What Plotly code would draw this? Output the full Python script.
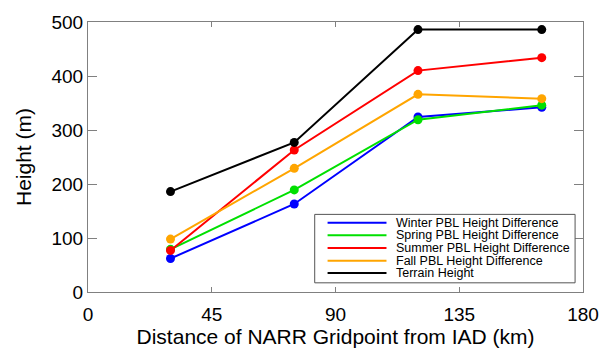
import plotly.graph_objects as go

# Data
distance_km = [30, 75, 120, 165]
series_names = [
    "Winter PBL Height Difference",
    "Spring PBL Height Difference",
    "Summer PBL Height Difference",
    "Fall PBL Height Difference",
    "Terrain Height",
]
winter = [62, 163, 324, 342]
spring = [79, 189, 319, 346]
summer = [77, 263, 410, 434]
fall = [98, 229, 366, 358]
terrain = [186, 277, 486, 486]
series_values = [winter, spring, summer, fall, terrain]
series_colors = ["#0000FF", "#00E000", "#FF0000", "#FFA500", "#000000"]
x_ticks = [0, 45, 90, 135, 180]
y_ticks = [0, 100, 200, 300, 400, 500]

FONT = "Liberation Sans, Arial, Helvetica, sans-serif"

fig = go.Figure()
for name, vals, col in zip(series_names, series_values, series_colors):
    fig.add_trace(go.Scatter(
        x=distance_km, y=vals, mode="lines+markers", name=name,
        line=dict(color=col, width=2),
        marker=dict(color=col, size=9),
        showlegend=False,
    ))

# Manual compact legend (MATLAB style)
shapes = [dict(type="rect", xref="paper", yref="paper",
               x0=0.458, x1=0.984, y0=0.034, y1=0.2875,
               line=dict(color="#555555", width=1), fillcolor="white", layer="above")]
annotations = []
row_y = [0.2568, 0.2099, 0.163, 0.1159, 0.0705]
for name, col, yy in zip(series_names, series_colors, row_y):
    shapes.append(dict(type="line", xref="paper", yref="paper",
                       x0=0.484, x1=0.603, y0=yy, y1=yy,
                       line=dict(color=col, width=2), layer="above"))
    annotations.append(dict(xref="paper", yref="paper", x=0.621, y=yy,
                            text=name, showarrow=False, xanchor="left",
                            yanchor="middle", borderpad=0,
                            font=dict(size=12.5, color="black", family=FONT)))

fig.update_layout(
    width=611, height=353,
    margin=dict(l=88, r=19, t=16, b=53),
    paper_bgcolor="white", plot_bgcolor="white",
    font=dict(family=FONT, color="black"),
    shapes=shapes, annotations=annotations,
    xaxis=dict(range=[0, 180], tickvals=x_ticks, ticks="inside", ticklen=5,
               tickcolor="#808080", showline=True, linecolor="#808080", mirror="ticks",
               showgrid=False, zeroline=False, tickfont=dict(size=19),
               ticklabelstandoff=5,
               title=dict(text="Distance of NARR Gridpoint from IAD (km)", font=dict(size=21), standoff=2)),
    yaxis=dict(range=[0, 500], tickvals=y_ticks, ticks="inside", ticklen=9,
               tickcolor="#808080", showline=True, linecolor="#808080", mirror="ticks",
               showgrid=False, zeroline=False, tickfont=dict(size=19),
               title=dict(text="Height (m)", font=dict(size=21), standoff=14)),
)

fig.write_html("out.html")
